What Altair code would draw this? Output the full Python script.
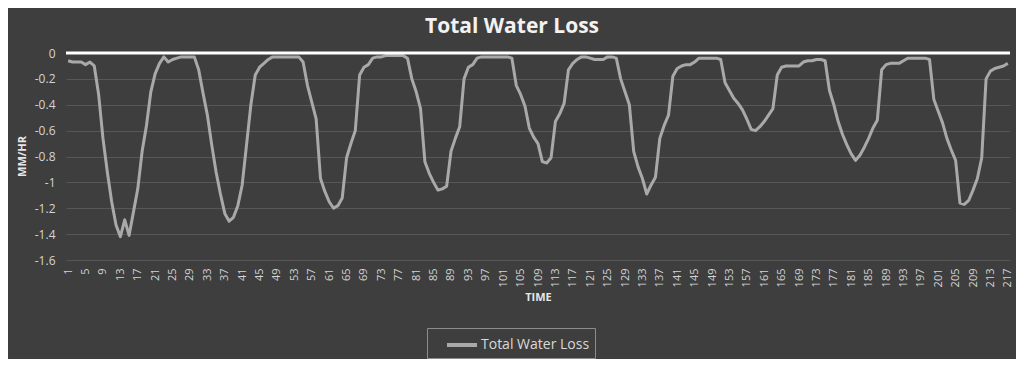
import altair as alt
import pandas as pd

time = list(range(1, 218))
water_loss = [
    -0.06, -0.07, -0.07, -0.07, -0.09, -0.07, -0.10, -0.32, -0.66, -0.92,
    -1.15, -1.33, -1.42, -1.29, -1.41, -1.23, -1.05, -0.76, -0.56, -0.30,
    -0.16, -0.08, -0.03, -0.07, -0.05, -0.04, -0.03, -0.03, -0.03, -0.03,
    -0.13, -0.31, -0.48, -0.71, -0.92, -1.09, -1.24, -1.30, -1.27, -1.18,
    -1.02, -0.71, -0.40, -0.17, -0.11, -0.08, -0.05, -0.03, -0.03, -0.03,
    -0.03, -0.03, -0.03, -0.03, -0.07, -0.25, -0.38, -0.51, -0.97, -1.07,
    -1.15, -1.20, -1.18, -1.12, -0.81, -0.70, -0.60, -0.17, -0.11, -0.09,
    -0.04, -0.03, -0.03, -0.02, -0.02, -0.02, -0.02, -0.02, -0.04, -0.20,
    -0.30, -0.43, -0.84, -0.93, -1.00, -1.06, -1.05, -1.03, -0.76, -0.66,
    -0.57, -0.20, -0.11, -0.09, -0.04, -0.03, -0.03, -0.03, -0.03, -0.03,
    -0.03, -0.03, -0.04, -0.25, -0.32, -0.41, -0.58, -0.65, -0.70, -0.84,
    -0.85, -0.81, -0.53, -0.47, -0.39, -0.13, -0.08, -0.05, -0.03, -0.03,
    -0.04, -0.05, -0.05, -0.05, -0.03, -0.03, -0.04, -0.20, -0.30, -0.40,
    -0.76, -0.88, -0.97, -1.09, -1.02, -0.96, -0.66, -0.56, -0.48, -0.18,
    -0.12, -0.10, -0.09, -0.09, -0.07, -0.04, -0.04, -0.04, -0.04, -0.04,
    -0.05, -0.23, -0.29, -0.35, -0.39, -0.44, -0.51, -0.59, -0.60, -0.57,
    -0.53, -0.48, -0.43, -0.17, -0.11, -0.10, -0.10, -0.10, -0.10, -0.07,
    -0.06, -0.06, -0.05, -0.05, -0.06, -0.29, -0.40, -0.53, -0.63, -0.71,
    -0.78, -0.83, -0.79, -0.73, -0.66, -0.58, -0.52, -0.13, -0.09, -0.08,
    -0.08, -0.08, -0.06, -0.04, -0.04, -0.04, -0.04, -0.04, -0.05, -0.36,
    -0.45, -0.54, -0.66, -0.75, -0.83, -1.16, -1.17, -1.14, -1.06, -0.97,
    -0.81, -0.20, -0.14, -0.12, -0.11, -0.10, -0.08,
]
series_name = "Total Water Loss"
x_tick_labels = list(range(1, 218, 4))
y_tick_labels = [0.0, -0.2, -0.4, -0.6, -0.8, -1.0, -1.2, -1.4, -1.6]
zero_line = [0.0]

FONT = "Open Sans"

df = pd.DataFrame({"TIME": time, "loss": water_loss, "series": [series_name] * len(time)})
zero_df = pd.DataFrame({"loss": zero_line})

y_scale = alt.Scale(domain=[-1.6, 0], nice=False)
y_axis = alt.Axis(
    values=y_tick_labels,
    tickCount=9,
    labelExpr="datum.value == 0 ? '0' : '-' + format(-datum.value, '~g')",
    labelOverlap=False,
    title="MM/HR",
    grid=True,
    gridColor="#575757",
    gridWidth=1,
    ticks=False,
    tickSize=0,
    domain=False,
    labelPadding=11,
    labelFontSize=12,
    labelColor="#d4d4d4",
    labelFont=FONT,
    titleFont=FONT,
    titleFontSize=11,
    titleFontWeight="bold",
    titleColor="#e6e6e6",
    titleX=-44,
    titleY=103,
    titleAngle=270,
    titleAlign="center",
    titleBaseline="middle",
)

line = alt.Chart(df).mark_line(strokeWidth=3, strokeJoin="round").encode(
    x=alt.X(
        "TIME:Q",
        scale=alt.Scale(domain=[0.5, 217.5], nice=False, zero=False),
        axis=alt.Axis(
            values=x_tick_labels,
            labelAngle=270,
            title="TIME",
            grid=False,
            ticks=False,
            tickSize=0,
            domain=False,
            labelPadding=8,
            labelFontSize=11,
            labelColor="#d4d4d4",
            labelFont=FONT,
            labelOverlap=False,
            titleFont=FONT,
            titleFontSize=11,
            titleFontWeight="bold",
            titleColor="#e6e6e6",
            titlePadding=5,
        ),
    ),
    y=alt.Y("loss:Q", scale=y_scale, axis=y_axis),
    color=alt.Color(
        "series:N",
        scale=alt.Scale(range=["#a9a9a9"]),
        legend=alt.Legend(
            title=None,
            orient="none",
            legendX=361,
            legendY=275,
            padding=5,
            symbolOffset=18,
            strokeColor="#8c8c8c",
            symbolType="M-1.5,0H1.5",
            symbolStrokeWidth=4,
            symbolSize=400,
            labelFont=FONT,
            labelFontSize=14,
            labelColor="#d9d9d9",
            labelOffset=7,
        ),
    ),
)

zero = alt.Chart(zero_df).mark_rule(color="#ffffff", strokeWidth=3).encode(
    y=alt.Y("loss:Q", scale=y_scale, axis=y_axis)
)

chart = (
    alt.layer(line, zero)
    .properties(
        width=944,
        height=207,
        title=alt.TitleParams(
            "Total Water Loss",
            font=FONT,
            fontSize=21,
            fontWeight="bold",
            color="#f2f2f2",
            anchor="middle",
            dx=-26,
            offset=10,
        ),
        autosize=alt.AutoSizeParams(type="none"),
        padding={"left": 58, "top": 45, "right": 6, "bottom": 99},
        background="#3e3e3e",
    )
    .configure_view(stroke=None)
)

chart.save("out.html", embed_options={"renderer": "svg", "actions": False})
